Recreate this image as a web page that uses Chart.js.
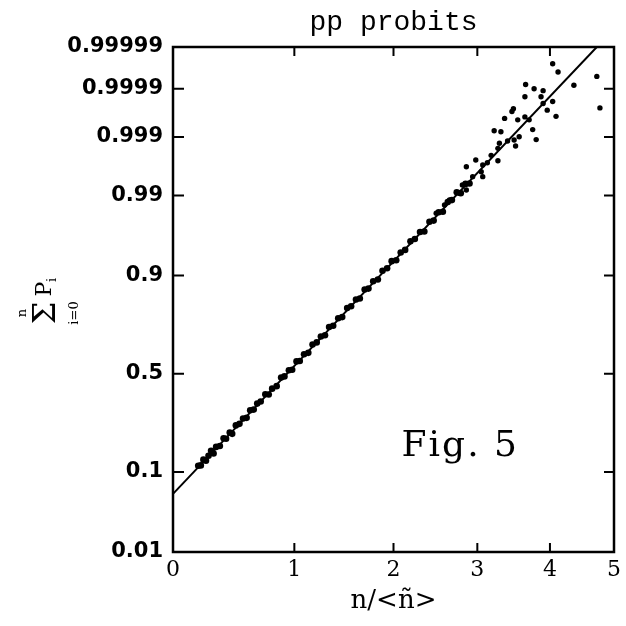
<!DOCTYPE html>
<html>
<head>
<meta charset="utf-8">
<script src="https://cdn.jsdelivr.net/npm/chart.js@4.4.1/dist/chart.umd.min.js"></script>
<style>
  html, body { margin: 0; padding: 0; background: #fff; }
</style>
</head>
<body>
<canvas id="myChart" width="626" height="626"></canvas>
<script>
// ============================================
// DATA
// ============================================

const chartTitle = 'pp probits';

const xTickValues = [0, 1, 2, 3, 4, 5];
const yTickValues = [0.01, 0.1, 0.5, 0.9, 0.99, 0.999, 0.9999, 0.99999];
const yTickLabels = ['0.01', '0.1', '0.5', '0.9', '0.99', '0.999', '0.9999', '0.99999'];

// fitted straight line
const fitX = [0, 4.72];
const fitP = [0.0585, 0.99999];

// dense band of points along the line
const bandX = [
  0.19, 0.21, 0.23, 0.25, 0.27, 0.29, 0.31, 0.33, 0.36, 0.39,
  0.41, 0.44, 0.46, 0.49, 0.52, 0.55, 0.58, 0.61, 0.64, 0.67,
  0.70, 0.74, 0.77, 0.80, 0.84, 0.88, 0.91, 0.95, 0.98, 1.02,
  1.05, 1.09, 1.13, 1.17, 1.21, 1.25, 1.29, 1.33, 1.37, 1.42,
  1.46, 1.51, 1.55, 1.60, 1.64, 1.69, 1.73, 1.78, 1.83, 1.88,
  1.93, 1.98, 2.03, 2.08, 2.13, 2.19, 2.24, 2.30, 2.35, 2.41,
  2.46, 2.52, 2.57, 2.63, 2.68, 2.74, 2.79, 2.85, 2.90
];
const bandP = [
  0.1148, 0.1159, 0.1312, 0.1280, 0.1424, 0.1575, 0.1491, 0.1699, 0.1730, 0.1998,
  0.1983, 0.2214, 0.2165, 0.2502, 0.2567, 0.2795, 0.2826, 0.3168, 0.3199, 0.3484,
  0.3589, 0.3943, 0.3932, 0.4230, 0.4357, 0.4799, 0.4862, 0.5184, 0.5205, 0.5640,
  0.5658, 0.6005, 0.6076, 0.6484, 0.6588, 0.6869, 0.6927, 0.7290, 0.7343, 0.7658,
  0.7703, 0.8045, 0.8111, 0.8337, 0.8369, 0.8641, 0.8668, 0.8862, 0.8908, 0.9106,
  0.9158, 0.9292, 0.9308, 0.9432, 0.9470, 0.9580, 0.9607, 0.9678, 0.9684, 0.9764,
  0.9772, 0.9825, 0.9828, 0.9875, 0.9883, 0.9911, 0.9908, 0.9934, 0.9935
];

// scattered points in the upper tail
const tailX = [
  2.49, 2.59, 2.65, 2.77, 2.81, 2.86, 2.86, 2.94, 2.98, 3.05,
  3.07, 3.07, 3.13, 3.18, 3.22, 3.27, 3.27, 3.29, 3.31, 3.36,
  3.40, 3.46, 3.48, 3.49, 3.51, 3.54, 3.56, 3.64, 3.64, 3.65,
  3.70, 3.75, 3.77, 3.80, 3.87, 3.90, 3.90, 3.96, 4.04, 4.04,
  4.09, 4.12, 4.36, 4.72, 4.77
];
const tailP = [
  0.98189, 0.98620, 0.98834, 0.99075, 0.99313, 0.99177, 0.99656, 0.99495, 0.99737, 0.99582,
  0.99495, 0.99678, 0.99706, 0.99782, 0.99924, 0.99837, 0.99729, 0.99869, 0.99921, 0.99957,
  0.99881, 0.99969, 0.99973, 0.99886, 0.99852, 0.99954, 0.99901, 0.99985, 0.99960, 0.99992,
  0.99954, 0.99928, 0.99990, 0.99888, 0.99985, 0.99989, 0.99979, 0.99971, 0.99981, 0.999974,
  0.99961, 0.999959, 0.999917, 0.999948, 0.99974
];

// ============================================
// AXIS TRANSFORMS
// ============================================

// inverse normal cdf (Acklam)
function probit(p) {
    const a = [-39.69683028665376, 220.9460984245205, -275.9285104469687, 138.3577518672690, -30.66479806614716, 2.506628277459239];
    const b = [-54.47609879822406, 161.5858368580409, -155.6989798598866, 66.80131188771972, -13.28068155288572];
    const c = [-0.007784894002430293, -0.3223964580411365, -2.400758277161838, -2.549732539343734, 4.374664141464968, 2.938163982698783];
    const d = [0.007784695709041462, 0.3224671290700398, 2.445134137142996, 3.754408661907416];
    const pl = 0.02425;
    let q, r;
    if (p < pl) {
        q = Math.sqrt(-2 * Math.log(p));
        return (((((c[0] * q + c[1]) * q + c[2]) * q + c[3]) * q + c[4]) * q + c[5]) /
            ((((d[0] * q + d[1]) * q + d[2]) * q + d[3]) * q + 1);
    }
    if (p > 1 - pl) {
        q = Math.sqrt(-2 * Math.log(1 - p));
        return -(((((c[0] * q + c[1]) * q + c[2]) * q + c[3]) * q + c[4]) * q + c[5]) /
            ((((d[0] * q + d[1]) * q + d[2]) * q + d[3]) * q + 1);
    }
    q = p - 0.5;
    r = q * q;
    return (((((a[0] * r + a[1]) * r + a[2]) * r + a[3]) * r + a[4]) * r + a[5]) * q /
        (((((b[0] * r + b[1]) * r + b[2]) * r + b[3]) * r + b[4]) * r + 1);
}

// the horizontal axis of the figure is log(x + 4)
const X_SHIFT = 4;
const xf = (v) => Math.log(v + X_SHIFT);

class ProbitScale extends Chart.LinearScale {
    static id = 'probit';
    static defaults = {};
    determineDataLimits() {
        this.min = this.options.min;
        this.max = this.options.max;
    }
    buildTicks() {
        return yTickValues.map(v => ({ value: v }));
    }
    getPixelForValue(v) {
        const a = probit(this.min), b = probit(this.max);
        return this.getPixelForDecimal((probit(v) - a) / (b - a));
    }
    getValueForPixel(px) {
        const a = probit(this.min), b = probit(this.max);
        const z = a + this.getDecimalForPixel(px) * (b - a);
        let lo = 1e-9, hi = 1 - 1e-9;
        for (let i = 0; i < 60; i++) {
            const mid = (lo + hi) / 2;
            if (probit(mid) < z) lo = mid; else hi = mid;
        }
        return lo;
    }
}

class ShiftLogScale extends Chart.LinearScale {
    static id = 'shiftlog';
    static defaults = {};
    determineDataLimits() {
        this.min = this.options.min;
        this.max = this.options.max;
    }
    buildTicks() {
        return xTickValues.map(v => ({ value: v }));
    }
    getPixelForValue(v) {
        return this.getPixelForDecimal((xf(v) - xf(this.min)) / (xf(this.max) - xf(this.min)));
    }
    getValueForPixel(px) {
        const t = xf(this.min) + this.getDecimalForPixel(px) * (xf(this.max) - xf(this.min));
        return Math.exp(t) - X_SHIFT;
    }
}

Chart.register(ProbitScale, ShiftLogScale);

// ============================================
// FRAME, INWARD TICKS AND EXTRA TEXT
// ============================================

const framePlugin = {
    id: 'frame',
    afterDatasetsDraw(chart) {
        const { ctx, chartArea: a, scales: { x, y } } = chart;
        ctx.save();
        ctx.strokeStyle = '#000';
        ctx.lineWidth = 2.5;
        ctx.strokeRect(a.left, a.top, a.right - a.left, a.bottom - a.top);

        ctx.lineWidth = 2;
        ctx.beginPath();
        x.ticks.forEach(t => {
            const px = x.getPixelForValue(t.value);
            ctx.moveTo(px, a.bottom); ctx.lineTo(px, a.bottom - 9);
            ctx.moveTo(px, a.top); ctx.lineTo(px, a.top + 9);
        });
        y.ticks.forEach(t => {
            const py = y.getPixelForValue(t.value);
            ctx.moveTo(a.left, py); ctx.lineTo(a.left + 11, py);
            ctx.moveTo(a.right, py); ctx.lineTo(a.right - 10, py);
        });
        ctx.stroke();

        ctx.fillStyle = '#000';

        // title, centred over the plot box
        ctx.font = '28px "Liberation Mono"';
        ctx.textAlign = 'center';
        ctx.textBaseline = 'alphabetic';
        ctx.fillText(chartTitle, (a.left + a.right) / 2, 30);

        // Fig. 5
        ctx.font = '36px "DejaVu Serif"';
        ctx.letterSpacing = '2px';
        ctx.textAlign = 'left';
        ctx.fillText('Fig. 5', x.getPixelForValue(2.09), y.getPixelForValue(0.1416));
        ctx.letterSpacing = '0px';

        // y axis title: sum_{i=0}^{n} P_i, rotated
        ctx.translate(47, 313);
        ctx.rotate(-Math.PI / 2);
        ctx.textAlign = 'center';
        ctx.textBaseline = 'middle';
        ctx.font = '32px "DejaVu Serif"';
        ctx.fillText('\u03A3', 0, 0);
        ctx.font = '22px "DejaVu Serif"';
        ctx.fillText('P', 24, -2);
        ctx.font = '13px "DejaVu Serif"';
        ctx.fillText('i', 33, 6);
        ctx.fillText('n', 0, -24);
        ctx.fillText('i=0', 0, 28);
        ctx.restore();
    }
};

// ============================================
// CREATE CHART
// ============================================

new Chart(document.getElementById('myChart'), {

    type: 'scatter',

    data: {
        datasets: [
            {
                label: 'fit',
                data: fitX.map((v, i) => ({ x: v, y: fitP[i] })),
                showLine: true,
                borderColor: '#000',
                borderWidth: 2,
                pointRadius: 0,
                fill: false
            },
            {
                label: 'band',
                data: bandX.map((v, i) => ({ x: v, y: bandP[i] })),
                backgroundColor: '#000',
                borderColor: '#000',
                borderWidth: 0,
                pointRadius: 3.3
            },
            {
                label: 'tail',
                data: tailX.map((v, i) => ({ x: v, y: tailP[i] })),
                backgroundColor: '#000',
                borderColor: '#000',
                borderWidth: 0,
                pointRadius: 2.7
            }
        ]
    },

    options: {
        responsive: false,
        animation: false,
        events: [],
        layout: {
            padding: { left: 0, right: 11, top: 47, bottom: 0 }
        },
        plugins: {
            legend: { display: false },
            tooltip: { enabled: false },
            title: { display: false }
        },
        scales: {
            x: {
                type: 'shiftlog',
                min: 0,
                max: 5,
                grid: { display: false, drawTicks: false },
                border: { display: false },
                ticks: {
                    color: '#000',
                    padding: 5,
                    autoSkip: false,
                    maxRotation: 0,
                    font: { family: '"DejaVu Serif"', size: 22 },
                    callback: (v, i) => String(xTickValues[i])
                },
                title: {
                    display: true,
                    text: 'n/<\u00F1>',
                    color: '#000',
                    font: { family: '"DejaVu Serif"', size: 26 },
                    padding: { top: 0, bottom: 9 }
                },
                afterFit: (scale) => { scale.height = 74; }
            },
            y: {
                type: 'probit',
                min: 0.01,
                max: 0.99999,
                grid: { display: false, drawTicks: false },
                border: { display: false },
                ticks: {
                    color: '#000',
                    padding: 10,
                    autoSkip: false,
                    font: { family: '"DejaVu Sans"', size: 21, weight: 'bold' },
                    callback: (v, i) => yTickLabels[i]
                },
                afterFit: (scale) => { scale.width = 173; }
            }
        }
    },

    plugins: [framePlugin]
});
</script>
</body>
</html>
